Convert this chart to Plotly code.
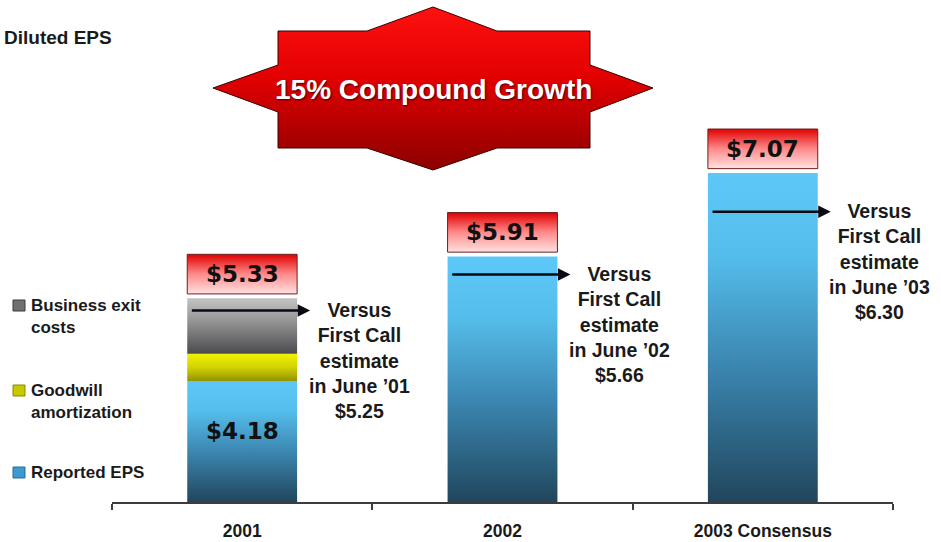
import plotly.graph_objects as go

# ---------------- data ----------------
categories = ["2001", "2002", "2003 Consensus"]
reported_eps = [4.18, 5.91, 7.07]
goodwill_amort = [0.38, 0.0, 0.0]
business_exit = [0.77, 0.0, 0.0]
total_labels = ["$5.33", "$5.91", "$7.07"]
inner_labels = ["$4.18", "", ""]
first_call_est = ["$5.25", "$5.66", "$6.30"]
estimate_month = ["June \u201901", "June \u201902", "June \u201903"]
arrow_level = [5.16, 5.66, 6.53]
legend_names = ["Business exit<br>costs", "Goodwill<br>amortization", "Reported EPS"]
headline = "15% Compound Growth"
title = "Diluted EPS"

# ---------------- styles ----------------
Y_MIN, Y_MAX = 2.5, 9.472
HALF = 0.211
FONT = "Liberation Sans, Arial, sans-serif"
TXT = "#1a1a1a"
BLUE_CS = [[0, "#21465C"], [0.4, "#3A84AE"], [0.75, "#55BDEB"], [1, "#5DC8F8"]]
YELLOW_CS = [[0, "#939300"], [0.5, "#D2D200"], [1, "#F2F200"]]
GRAY_CS = [[0, "#4A4A50"], [0.5, "#8A8A8A"], [1, "#C4C4C4"]]
RED_CS = [[0, "#FFE2E2"], [0.5, "#FF8A8A"], [1, "#E00000"]]

fig = go.Figure()


def seg(i, y0, y1, cs, line=None):
    xs = [i - HALF, i + HALF, i + HALF, i - HALF, i - HALF]
    ys = [y0, y0, y1, y1, y0]
    fig.add_trace(go.Scatter(
        x=xs, y=ys, mode="lines", fill="toself",
        line=line or dict(width=0),
        fillgradient=dict(type="vertical", colorscale=cs),
        hoverinfo="skip", showlegend=False))


totals = []
for i in range(len(categories)):
    r, g, b = reported_eps[i], goodwill_amort[i], business_exit[i]
    tot = r + g + b
    totals.append(tot)
    seg(i, Y_MIN, r, BLUE_CS)
    if g > 0:
        seg(i, r, r + g, YELLOW_CS)
    if b > 0:
        seg(i, r + g, tot, GRAY_CS)
    # red total box above the bar
    seg(i, tot + 0.06, tot + 0.61, RED_CS, line=dict(color="#6B2020", width=1))

annotations = []
for i in range(len(categories)):
    tot = totals[i]
    annotations.append(dict(
        x=i, y=tot + 0.335, xref="x", yref="y", text=total_labels[i],
        showarrow=False, font=dict(family="DejaVu Sans", size=23, color="#111111", weight="bold")))
    if inner_labels[i]:
        annotations.append(dict(
            x=i, y=(Y_MIN + reported_eps[i]) / 2, yshift=11, xref="x", yref="y",
            text=inner_labels[i], showarrow=False,
            font=dict(family="DejaVu Sans", size=23, color="#111111", weight="bold")))
    # arrow
    annotations.append(dict(
        x=i + HALF + 0.05, y=arrow_level[i], ax=i - HALF + 0.012, ay=arrow_level[i],
        xref="x", yref="y", axref="x", ayref="y", text="", showarrow=True,
        arrowhead=2, arrowsize=1, arrowwidth=2.5, arrowcolor="#0a0a14", standoff=0))
    annotations.append(dict(
        x=i + 0.45, y=arrow_level[i], yshift=13.5, xref="x", yref="y",
        xanchor="center", yanchor="top", align="center", showarrow=False,
        text="Versus<br>First Call<br>estimate<br>in " + estimate_month[i] + "<br>" + first_call_est[i],
        font=dict(family=FONT, size=19.5, color=TXT, weight="bold")))

# dummy trace so the category labels axis exists
fig.add_trace(go.Scatter(x=[0, 1, 2], y=[None, None, None], mode="markers",
                         showlegend=False, hoverinfo="skip"))

# ---------------- decoration in pixel space ----------------
star_x = [278, 367, 433, 497, 590, 590, 653, 590, 590, 497, 433, 367, 278, 278, 213, 278, 278]
star_y = [31, 31, 7, 31, 31, 65, 88, 112, 148, 148, 170, 148, 148, 112, 88, 65, 31]
fig.add_trace(go.Scatter(
    x=star_x, y=star_y, xaxis="x2", yaxis="y2", mode="lines", fill="toself",
    line=dict(color="#3A0000", width=1),
    fillgradient=dict(type="vertical", colorscale=[[0, "#8C0000"], [0.55, "#E00000"], [1, "#FF1010"]]),
    hoverinfo="skip", showlegend=False))
annotations.append(dict(
    x=433, y=89, xref="x2", yref="y2", text=headline, showarrow=False,
    font=dict(family=FONT, size=28, color="#FFFFFF", weight="bold",
              shadow="1px 1px 2px #400000")))

annotations.append(dict(
    x=2, y=37, xref="x2", yref="y2", text=title, showarrow=False,
    xanchor="left", yanchor="middle",
    font=dict(family=FONT, size=19, color=TXT, weight="bold")))

legend_fill = ["#707070", "#C8C800", "#3C9AD0"]
legend_line = ["#3A3A3A", "#8A8A00", "#2C6A90"]
legend_icon_y = [300, 385, 467]
shapes = []
for k in range(3):
    shapes.append(dict(type="rect", xref="x2", yref="y2", x0=13, x1=25,
                       y0=legend_icon_y[k], y1=legend_icon_y[k] + 11,
                       fillcolor=legend_fill[k], line=dict(color=legend_line[k], width=1)))
    annotations.append(dict(
        x=29, y=legend_icon_y[k] - 6, xref="x2", yref="y2", text=legend_names[k],
        showarrow=False, xanchor="left", yanchor="top", align="left",
        font=dict(family=FONT, size=17, color=TXT, weight="bold")))

fig.update_layout(
    width=941, height=542,
    margin=dict(l=0, r=0, t=0, b=0),
    paper_bgcolor="white", plot_bgcolor="rgba(0,0,0,0)",
    showlegend=False,
    annotations=annotations, shapes=shapes,
    xaxis=dict(domain=[112 / 941, 893 / 941], range=[-0.5, 2.5],
               tickmode="array", tickvals=[0, 1, 2], ticktext=categories,
               ticks="", showline=True, linecolor="#3c3c3c", linewidth=2,
               showgrid=False, zeroline=False, ticklabelstandoff=12,
               tickfont=dict(family=FONT, size=17.5, color=TXT, weight="bold"),
               minor=dict(tickmode="array", tickvals=[-0.5, 0.5, 1.5, 2.5],
                          ticks="outside", ticklen=6, tickcolor="#3c3c3c",
                          tickwidth=2, showgrid=False),
               fixedrange=True, automargin=False),
    yaxis=dict(domain=[40 / 542, 1], range=[Y_MIN, Y_MAX], visible=False,
               fixedrange=True, automargin=False),
    xaxis2=dict(domain=[0, 1], range=[0, 941], visible=False, anchor="y2",
                fixedrange=True),
    yaxis2=dict(domain=[0, 1], range=[542, 0], visible=False, anchor="x2",
                fixedrange=True),
)

fig.write_html(
    "out.html",
    config={"displayModeBar": False},
    post_script="document.body.style.margin='0';document.body.style.overflow='hidden';",
)
